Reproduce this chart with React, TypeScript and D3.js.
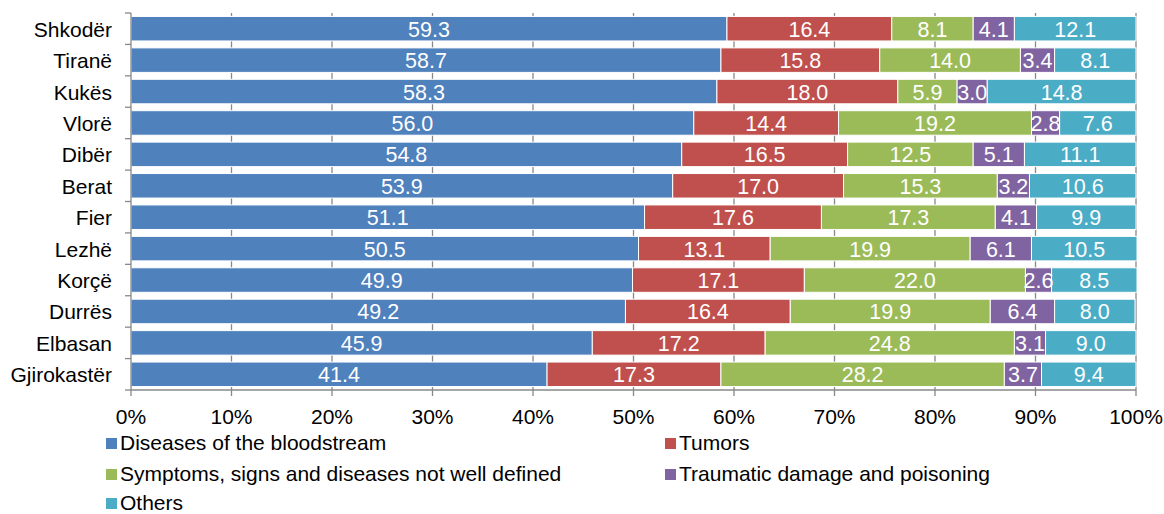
import React from "react";
import * as d3 from "d3";

const categories = ["Shkodër","Tiranë","Kukës","Vlorë","Dibër","Berat","Fier","Lezhë","Korçë","Durrës","Elbasan","Gjirokastër"];
const seriesNames = ["Diseases of the bloodstream","Tumors","Symptoms, signs and diseases not well defined","Traumatic damage and poisoning","Others"];
const colors = ["#4F81BD","#C0504D","#9BBB59","#8064A2","#4BACC6"];
const bloodstream = [59.3,58.7,58.3,56.0,54.8,53.9,51.1,50.5,49.9,49.2,45.9,41.4];
const tumors = [16.4,15.8,18.0,14.4,16.5,17.0,17.6,13.1,17.1,16.4,17.2,17.3];
const symptoms = [8.1,14.0,5.9,19.2,12.5,15.3,17.3,19.9,22.0,19.9,24.8,28.2];
const traumatic = [4.1,3.4,3.0,2.8,5.1,3.2,4.1,6.1,2.6,6.4,3.1,3.7];
const others = [12.1,8.1,14.8,7.6,11.1,10.6,9.9,10.5,8.5,8.0,9.0,9.4];
const xTicks = [0,10,20,30,40,50,60,70,80,90,100];

const W = 1164, H = 514;
const left = 131, right = 1136, top = 13, bottom = 390;
const font = "Liberation Sans, Arial, sans-serif";

export default function App() {
  const series = [bloodstream, tumors, symptoms, traumatic, others];
  const rows = categories.map((c, i) => {
    const o: any = { cat: c };
    series.forEach((s, k) => (o["s" + k] = s[i]));
    return o;
  });
  const keys = series.map((_, k) => "s" + k);
  const stack = d3.stack().keys(keys)(rows as any);
  const x = d3.scaleLinear().domain([0, 100]).range([left, right]);
  const y = d3.scaleBand().domain(categories).range([top, bottom]).paddingInner(0.22).paddingOuter(0.11);
  const yb = d3.scaleBand().domain(categories).range([top, bottom]);
  const grid = "#888";
  const legendItems = [
    { k: 0, x: 106, y: 450 },
    { k: 1, x: 665, y: 450 },
    { k: 2, x: 106, y: 481 },
    { k: 3, x: 665, y: 481 },
    { k: 4, x: 106, y: 510 },
  ];
  return (
    <svg width={W} height={H} style={{ position: "absolute", left: 0, top: 0 }} fontFamily={font}>
      <rect width={W} height={H} fill="#fff" />
      {xTicks.slice(1).map((t) => (
        <line key={t} x1={x(t)} x2={x(t)} y1={top} y2={bottom} stroke={grid} strokeWidth={1.3} />
      ))}
      {stack.map((layer, k) =>
        layer.map((d, i) => (
          <rect key={k + "-" + i} x={x(d[0])} y={y(categories[i])!} width={x(d[1]) - x(d[0])} height={y.bandwidth()} fill={colors[k]} stroke="#fff" strokeWidth={1} />
        ))
      )}
      {stack.map((layer, k) =>
        layer.map((d, i) => (
          <text key={"t" + k + "-" + i} x={(x(d[0]) + x(d[1])) / 2} y={y(categories[i])! + y.bandwidth() / 2 + 8} textAnchor="middle" fill="#fff" fontSize={21.5}>
            {series[k][i].toFixed(1)}
          </text>
        ))
      )}
      <line x1={left} x2={left} y1={top} y2={bottom} stroke={grid} strokeWidth={1.3} />
      <line x1={left} x2={right} y1={bottom} y2={bottom} stroke={grid} strokeWidth={1.3} />
      {categories.map((c) => (
        <line key={"yt" + c} x1={left - 6} x2={left} y1={yb(c)!} y2={yb(c)!} stroke={grid} strokeWidth={1.3} />
      ))}
      <line x1={left - 6} x2={left} y1={bottom} y2={bottom} stroke={grid} strokeWidth={1.3} />
      {xTicks.map((t) => (
        <line key={"xt" + t} x1={x(t)} x2={x(t)} y1={bottom} y2={bottom + 6} stroke={grid} strokeWidth={1.3} />
      ))}
      {categories.map((c) => (
        <text key={"yl" + c} x={112} y={yb(c)! + yb.bandwidth() / 2 + 8} textAnchor="end" fontSize={21} fill="#000">{c}</text>
      ))}
      {xTicks.map((t) => (
        <text key={"xl" + t} x={x(t)} y={424} textAnchor="middle" fontSize={21} fill="#000">{t + "%"}</text>
      ))}
      {legendItems.map((it) => (
        <g key={"lg" + it.k}>
          <rect x={it.x} y={it.y - 12} width={11} height={11} fill={colors[it.k]} />
          <text x={it.x + 14} y={it.y} fontSize={21} fill="#000">{seriesNames[it.k]}</text>
        </g>
      ))}
    </svg>
  );
}
